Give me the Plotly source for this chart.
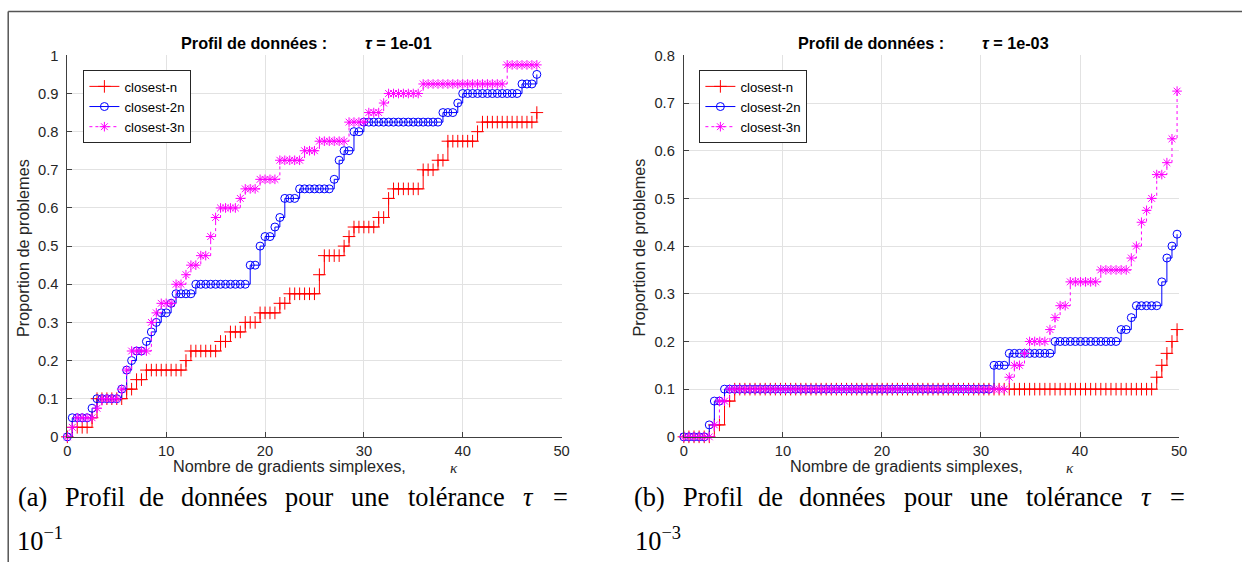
import numpy as np
import plotly.graph_objects as go

# ---------------- data ----------------
N_PROBLEMS = 40  # proportions are counts / 40

# sampling grids of kappa (number of simplex gradients)
left_kappa = np.arange(96) * 0.5
right_kappa = np.arange(98) * 0.5134

series_names = ["closest-n", "closest-2n", "closest-3n"]

# tau = 1e-01 (counts of solved problems, out of 40)
left_closest_n = [0, 1, 1, 1, 1, 2, 4, 4, 4, 4, 4, 4, 5, 5, 6, 6, 7, 7, 7, 7, 7, 7, 7, 7, 8,
                  9, 9, 9, 9, 9, 9, 10, 10, 11, 11, 11, 12, 12, 12, 13, 13, 13, 13, 14, 14,
                  15, 15, 15, 15, 15, 15, 17, 19, 19, 19, 19, 20, 21, 22, 22, 22, 22, 22, 23, 23,
                  25, 26, 26, 26, 26, 26, 26, 28, 28, 28, 29, 29, 31, 31, 31, 31, 31, 31, 32,
                  33, 33, 33, 33, 33, 33, 33, 33, 33, 33, 33, 34]
left_closest_2n = [0, 2, 2, 2, 2, 3, 4, 4, 4, 4, 4, 5, 7, 8, 9, 9, 10, 11, 12, 13, 13, 14,
                   15, 15, 15, 15, 16, 16, 16, 16, 16, 16, 16, 16, 16, 16, 16, 18, 18, 20, 21, 21,
                   22, 23, 25, 25, 25, 26, 26, 26, 26, 26, 26, 26, 27, 29, 30, 30, 32, 32,
                   33, 33, 33, 33, 33, 33, 33, 33, 33, 33, 33, 33, 33, 33, 33, 33, 34, 34, 34, 35,
                   36, 36, 36, 36, 36, 36, 36, 36, 36, 36, 36, 36, 37, 37, 37, 38]
left_closest_3n = [0, 1, 2, 2, 2, 2, 3, 4, 4, 4, 4, 5, 7, 9, 9, 9, 9, 12, 13, 14, 14, 14, 16, 16,
                   17, 18, 18, 19, 19, 21, 23, 24, 24, 24, 24, 25, 26, 26, 26, 27, 27, 27, 27,
                   29, 29, 29, 29, 29, 30, 30, 30, 31, 31, 31, 31, 31, 31, 33, 33, 33, 33, 34, 34, 34,
                   35, 36, 36, 36, 36, 36, 36, 36, 37, 37, 37, 37, 37, 37, 37, 37, 37, 37, 37, 37,
                   37, 37, 37, 37, 37, 39, 39, 39, 39, 39, 39, 39]

# tau = 1e-03
right_closest_n = [0, 0, 0, 0, 0, 0, 1, 1, 3, 3] + [4] * 83 + [5, 6, 7, 8, 9]
right_closest_2n = ([0, 0, 0, 0, 0, 1, 3, 3] + [4] * 53 + [6, 6, 6] + [7] * 9 + [8] * 13
                    + [9, 9, 10, 11, 11, 11, 11, 11, 13, 15, 16, 17])
right_closest_3n = ([0, 0, 0, 0, 0, 0, 1, 3, 3] + [4] * 55
                    + [5, 6, 6, 7, 8, 8, 8, 8, 9, 10, 11, 11, 13, 13, 13, 13, 13, 13,
                       14, 14, 14, 14, 14, 14, 15, 16, 18, 19, 20, 22, 22, 23, 25, 29])

x_ticks = [0, 10, 20, 30, 40, 50]
left_y_ticks = [0, 0.1, 0.2, 0.3, 0.4, 0.5, 0.6, 0.7, 0.8, 0.9, 1]
left_y_labels = ["0", "0.1", "0.2", "0.3", "0.4", "0.5", "0.6", "0.7", "0.8", "0.9", "1"]
right_y_ticks = [0, 0.1, 0.2, 0.3, 0.4, 0.5, 0.6, 0.7, 0.8]
right_y_labels = ["0", "0.1", "0.2", "0.3", "0.4", "0.5", "0.6", "0.7", "0.8"]

titles = ["1e-01", "1e-03"]
caption_exponents = ["−1", "−3"]

# ---------------- figure ----------------
W, H = 1250, 570
SANS = "Liberation Sans, Arial, Helvetica, sans-serif"
SERIF = "Liberation Serif, Times New Roman, serif"
TXT = "#262626"
FS = 1.015  # font scale

styles = [
    dict(color="#ff0000", dash="solid", symbol="cross-thin-open", size=9),
    dict(color="#0000ff", dash="solid", symbol="circle-open", size=8),
    dict(color="#ff00ff", dash="dot", symbol="asterisk-open", size=8),
]

fig = go.Figure()

panels = [
    dict(kappa=left_kappa, data=[left_closest_n, left_closest_2n, left_closest_3n],
         xa="x", ya="y", legend="legend"),
    dict(kappa=right_kappa, data=[right_closest_n, right_closest_2n, right_closest_3n],
         xa="x2", ya="y2", legend="legend2"),
]

for p in panels:
    for name, counts, st in zip(series_names, p["data"], styles):
        fig.add_trace(go.Scatter(
            x=p["kappa"], y=np.array(counts) / N_PROBLEMS,
            mode="lines+markers", name=name, line_shape="hv",
            line=dict(color=st["color"], width=1, dash=st["dash"]),
            marker=dict(symbol=st["symbol"], size=st["size"], color=st["color"],
                        line=dict(color=st["color"], width=1)),
            xaxis=p["xa"], yaxis=p["ya"], legend=p["legend"], cliponaxis=False,
        ))


# layout positions (in target pixels) -> paper coordinates
def px(x):
    return ((x - 3.8) / 0.988) / W


def py(y):
    return 1 - ((y - 5.5) / 0.975) / H


ydom = [py(435.7), py(53)]
axis_common = dict(
    showline=True, linecolor="#404040", linewidth=1, mirror=False,
    ticks="inside", ticklen=5, tickwidth=1, tickcolor="#404040",
    showgrid=True, gridcolor="#e2e2e2", gridwidth=1, zeroline=False,
    tickfont=dict(family=SANS, size=14.5 * FS, color=TXT),
)

fig.update_layout(
    width=W, height=H, margin=dict(l=0, r=0, t=0, b=0), autosize=False,
    paper_bgcolor="white", plot_bgcolor="white", showlegend=True,
    xaxis=dict(domain=[px(67), px(560)], range=[0, 50], anchor="y",
               tickvals=x_ticks, ticklabelstandoff=0, **axis_common),
    yaxis=dict(domain=ydom, range=[0, 1], anchor="x",
               tickvals=left_y_ticks, ticktext=left_y_labels, ticklabelstandoff=5, **axis_common),
    xaxis2=dict(domain=[px(682), px(1176)], range=[0, 50], anchor="y2",
                tickvals=x_ticks, ticklabelstandoff=0, **axis_common),
    yaxis2=dict(domain=ydom, range=[0, 0.8], anchor="x2",
                tickvals=right_y_ticks, ticktext=right_y_labels, ticklabelstandoff=5, **axis_common),
    legend=dict(x=px(83), y=py(68), xanchor="left", yanchor="top",
                bordercolor=TXT, borderwidth=1, bgcolor="white", itemwidth=30,
                font=dict(family=SANS, size=13 * FS, color="black"), tracegroupgap=0),
    legend2=dict(x=px(697.5), y=py(68), xanchor="left", yanchor="top",
                 bordercolor=TXT, borderwidth=1, bgcolor="white", itemwidth=30,
                 font=dict(family=SANS, size=13 * FS, color="black"), tracegroupgap=0),
)

ann = []
for k, left in enumerate([67, 682]):
    # title
    ann.append(dict(x=px(left + 111.5), y=py(41), xref="paper", yref="paper",
                    xanchor="left", yanchor="middle", showarrow=False,
                    text="<b>Profil de données :</b>",
                    font=dict(family=SANS, size=16 * FS, color="black")))
    ann.append(dict(x=px(left + 295), y=py(41), xref="paper", yref="paper",
                    xanchor="left", yanchor="middle", showarrow=False,
                    text="<b><i>τ</i> = " + titles[k] + "</b>",
                    font=dict(family=SANS, size=16 * FS, color="black")))
    # x label
    ann.append(dict(x=px(left + 103.5), y=py(465), xref="paper", yref="paper",
                    xanchor="left", yanchor="middle", showarrow=False,
                    text="Nombre de gradients simplexes,",
                    font=dict(family=SANS, size=16 * FS, color=TXT)))
    ann.append(dict(x=px(left + 385.5), y=py(466), xref="paper", yref="paper",
                    xanchor="center", yanchor="middle", showarrow=False,
                    text="<i>κ</i>", font=dict(family=SERIF, size=15 * FS, color=TXT)))
    # y label
    ann.append(dict(x=px(left - 45), y=py(246), xref="paper", yref="paper",
                    xanchor="center", yanchor="middle", showarrow=False, textangle=-90,
                    text="Proportion de problemes",
                    font=dict(family=SANS, size=16 * FS, color=TXT)))

# captions (justified text, word by word)
cap_left = [("(a)", 32), ("Profil", 95), ("de", 151), ("données", 223), ("pour", 309),
            ("une", 369), ("tolérance", 455), ("<i>τ</i>", 527), ("=", 559)]
cap_right = [("(b)", 648), ("Profil", 711), ("de", 768), ("données", 840), ("pour", 926),
             ("une", 986), ("tolérance", 1072), ("<i>τ</i>", 1144), ("=", 1174)]
for words in (cap_left, cap_right):
    for w, cx in words:
        ann.append(dict(x=px(cx), y=py(496), xref="paper", yref="paper",
                        xanchor="center", yanchor="middle", showarrow=False,
                        text=w, font=dict(family=SERIF, size=26 * FS, color="black")))
for k, lx in enumerate([15, 631]):
    ann.append(dict(x=px(lx), y=py(539), xref="paper", yref="paper",
                    xanchor="left", yanchor="middle", showarrow=False,
                    text="10<sup>" + caption_exponents[k] + "</sup>",
                    font=dict(family=SERIF, size=26 * FS, color="black")))

fig.update_layout(annotations=ann)

# outer frame (top and left edges)
fy = min(py(9), 1 - 1.0 / H)
fig.add_shape(type="line", xref="paper", yref="paper", x0=px(8), x1=1.0, y0=fy, y1=fy,
              line=dict(color="#555555", width=1.5))
fig.add_shape(type="line", xref="paper", yref="paper", x0=px(8), x1=px(8), y0=fy, y1=0,
              line=dict(color="#555555", width=1.5))

fig.write_html(
    "out.html", config={"displayModeBar": False},
    post_script=(
        "document.documentElement.style.margin='0';"
        "document.body.style.margin='0';document.body.style.padding='0';"
        "document.body.style.overflow='hidden';"
        "var gd=document.getElementById('{plot_id}');"
        "gd.style.position='fixed';gd.style.left='0px';gd.style.top='0px';"
    ),
)
